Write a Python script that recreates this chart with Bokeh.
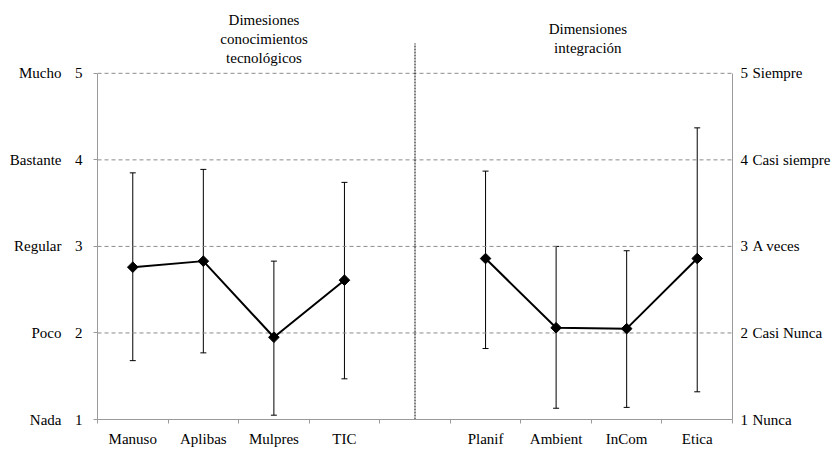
import math
from bokeh.plotting import figure
from bokeh.models import Range1d, LinearAxis, FixedTicker, Whisker, ColumnDataSource, TeeHead
from bokeh.embed import file_html
from bokeh.resources import INLINE
from bokeh.core.properties import value

# ---- data ----
categories = ["Manuso", "Aplibas", "Mulpres", "TIC", "", "Planif", "Ambient", "InCom", "Etica"]
means = [2.76, 2.83, 1.95, 2.61, float("nan"), 2.86, 2.06, 2.05, 2.86]
upper = [3.85, 3.89, 2.83, 3.74, float("nan"), 3.87, 3.00, 2.95, 4.37]
lower = [1.68, 1.77, 1.05, 1.47, float("nan"), 1.82, 1.13, 1.14, 1.32]
level_values = [1, 2, 3, 4, 5]
left_levels = ["Nada", "Poco", "Regular", "Bastante", "Mucho"]
right_levels = ["Nunca", "Casi Nunca", "A veces", "Casi siempre", "Siempre"]
group_titles = ["Dimesiones\nconocimientos\ntecnológicos", "Dimensiones\nintegración"]

FONT = "Liberation Serif"
FS = "15px"
GRAY = "#9a9a9a"

n = len(categories)
xs = [i + 0.5 for i in range(n)]

W, H = 833, 449
B_LEFT, B_RIGHT, B_TOP, B_BOTTOM = 97, 100, 0, 29
scale = 86.75
ytop = 1 + (H - B_TOP - B_BOTTOM) / scale

p = figure(width=W, height=H, output_backend="svg", toolbar_location=None,
           x_range=Range1d(0, n), y_range=Range1d(1, ytop),
           x_axis_location=None, y_axis_location=None,
           min_border_left=B_LEFT, min_border_right=B_RIGHT,
           min_border_top=B_TOP, min_border_bottom=B_BOTTOM)
p.outline_line_color = None
p.background_fill_color = "white"
p.border_fill_color = "white"
p.xgrid.visible = False
p.ygrid.visible = False


def level_axis(labels, standoff, line_color=None, tick_out=0):
    ax = LinearAxis(ticker=FixedTicker(ticks=level_values, minor_ticks=[]),
                    major_label_overrides={v: t for v, t in zip(level_values, labels)})
    ax.bounds = (1, 5)
    ax.axis_line_color = line_color
    ax.major_tick_line_color = GRAY if tick_out else None
    ax.major_tick_out = tick_out
    ax.major_tick_in = 0
    ax.minor_tick_line_color = None
    ax.major_label_standoff = standoff
    ax.major_label_text_font = FONT
    ax.major_label_text_font_size = FS
    ax.major_label_text_color = "black"
    return ax


nums = [str(v) for v in level_values]
p.add_layout(level_axis(nums, 11, GRAY, 4), "left")
p.add_layout(level_axis(left_levels, 10), "left")
p.add_layout(level_axis(nums, 8, GRAY, 0), "right")
p.add_layout(level_axis(right_levels, 1), "right")

# bottom category axis (ticks at slot boundaries, labels at centers)
lab_x = [x for x, c in zip(xs, categories) if c]
ax_b = LinearAxis(ticker=FixedTicker(ticks=lab_x, minor_ticks=list(range(n + 1))),
                  major_label_overrides={x: c for x, c in zip(xs, categories) if c})
ax_b.axis_line_color = GRAY
ax_b.major_tick_line_color = None
ax_b.minor_tick_line_color = GRAY
ax_b.minor_tick_out = 4
ax_b.minor_tick_in = 0
ax_b.major_label_standoff = 5
ax_b.major_label_text_font = FONT
ax_b.major_label_text_font_size = FS
ax_b.major_label_text_color = "black"
p.add_layout(ax_b, "below")

# dashed horizontal gridlines at 2..5
grid_levels = [v for v in level_values if v > 1]
p.segment(x0=[0] * len(grid_levels), x1=[n] * len(grid_levels), y0=grid_levels, y1=grid_levels,
          line_color="#8c8c8c", line_width=1, line_dash="4 3")

# dotted separator between the two groups
sep_x = categories.index("") + 0.5
p.segment(x0=[sep_x], x1=[sep_x], y0=[1], y1=[5.346], line_color="black", line_width=1, line_dash="2 1")

# error bars
valid = [i for i, c in enumerate(categories) if c]
src_w = ColumnDataSource(dict(x=[xs[i] for i in valid], up=[upper[i] for i in valid], lo=[lower[i] for i in valid]))
w = Whisker(source=src_w, base="x", upper="up", lower="lo", dimension="height",
            line_color="black", line_width=1,
            upper_head=TeeHead(size=6, line_color="black", line_width=1),
            lower_head=TeeHead(size=6, line_color="black", line_width=1))
p.add_layout(w)

# mean line and markers
p.line(xs, means, line_color="black", line_width=2)
p.scatter([xs[i] for i in valid], [means[i] for i in valid], marker="square", angle=math.pi / 4,
          size=7.5, fill_color="black", line_color="black")

# group titles
p.text(x=[2.36, 6.95], y=[5.398, 5.398], text=group_titles, text_align="center", text_baseline="middle",
       text_font=value(FONT), text_font_size=FS, text_color="black", text_line_height=1.2)

open("out.html", "w").write(file_html(p, INLINE))
